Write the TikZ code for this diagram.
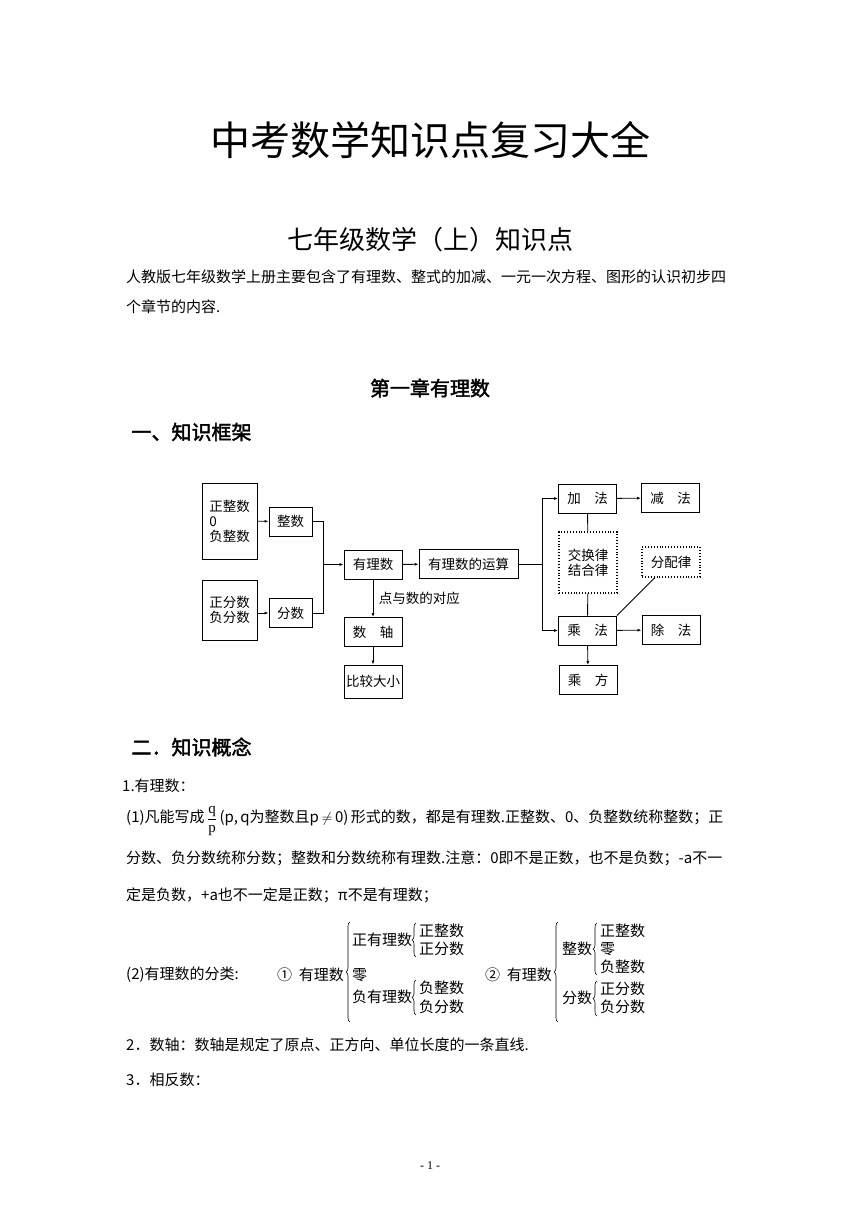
\documentclass[tikz,border=0pt]{standalone}
\usepackage{fontspec}
\setmainfont{Liberation Serif}
\newfontfamily\cjk{Noto Sans CJK SC}
\newfontfamily\cjkb[FakeBold=2]{Noto Sans CJK SC}
\usetikzlibrary{arrows.meta,decorations.pathreplacing}
\begin{document}
\begin{tikzpicture}[x=1pt,y=-1pt,
  bx/.style={draw,line width=0.9pt,minimum width=#1,minimum height=29pt,inner sep=1pt,font=\cjk\fontsize{13.5}{15}\selectfont},
  bx/.default=58pt,
  dbx/.style={bx,dotted,line width=1.2pt},
  ln/.style={line width=0.9pt},
  ar/.style={ln,-{Latex[length=4pt,width=3pt]}},
  tx/.style={anchor=west,inner sep=0,font=\cjk\fontsize{15}{16}\selectfont},
  br/.style={decorate,decoration={brace,amplitude=4pt},line width=0.6pt}]
\useasboundingbox (0,0) rectangle (860,1216);
\node[font=\cjk\fontsize{40}{42}\selectfont] (title) at (430,140) {中考数学知识点复习大全};
\node[font=\cjk\fontsize{26}{28}\selectfont] (sub) at (430,240) {七年级数学（上）知识点};
\node[tx] (p1) at (126,277) {人教版七年级数学上册主要包含了有理数、整式的加减、一元一次方程、图形的认识初步四};
\node[tx] (p2) at (126,307) {个章节的内容.};
\node[font=\cjkb\fontsize{20}{22}\selectfont] (ch) at (430,388) {第一章有理数};
\node[anchor=west,font=\cjkb\fontsize{20}{22}\selectfont] (h1) at (128,432) {一、知识框架};
% diagram
\node[bx=55pt,minimum height=76pt,align=left] (a1) at (229.5,521) {正整数\\0\\负整数};
\node[bx=43pt] (zs) at (290.5,521.5) {整数};
\node[bx=55pt,minimum height=60pt,align=left] (a2) at (229.5,610) {正分数\\负分数};
\node[bx=43pt] (fs) at (290.5,613) {分数};
\node[bx] (yl) at (373,564.5) {有理数};
\node[bx=99pt] (ys) at (468.5,564) {有理数的运算};
\node[bx] (jf) at (587.5,498.5) {加\quad 法};
\node[bx] (jian) at (670.5,498) {减\quad 法};
\node[dbx,minimum height=61pt,align=center] (jh) at (588,562.5) {交换律\\结合律};
\node[dbx,minimum height=30pt] (fp) at (671,562) {分配律};
\node[bx] (cf) at (587.5,630.5) {乘\quad 法};
\node[bx] (chu) at (671,630) {除\quad 法};
\node[bx] (cfang) at (588,680) {乘\quad 方};
\node[bx] (sz) at (373,632) {数\quad 轴};
\node[bx,minimum height=33pt] (bj) at (373,681.5) {比较大小};
\coordinate (j1) at (323,564.5);
\coordinate (j2) at (542,564);
\draw[ar] (a1) -- (zs);
\draw[ar] (a2.east|-fs) -- (fs);
\draw[ln] (zs.east) -| (j1) (fs.east) -| (j1);
\draw[ar] (j1) -- (yl);
\draw[ar] (yl) -- (ys);
\draw[ln] (ys) -- (j2);
\draw[ar] (j2) |- (jf);
\draw[ar] (j2) |- (cf);
\draw[ar] (jf) -- (jian);
\draw[ar] (cf) -- (chu);
\draw[ar] (cf) -- (cfang);
\draw[ln] (jf) -- (jh);
\draw[ln] (jh) -- (cf);
\draw[ln] (cf.north east) -- ([xshift=-16pt]fp.south);
\draw[ar] (yl) -- node[right,font=\cjk\fontsize{13.5}{15}\selectfont,xshift=2pt] {点与数的对应} (sz);
\draw[ar] (sz) -- (bj);
% part 2
\node[anchor=west,font=\cjkb\fontsize{20}{22}\selectfont] (h2) at (128,747) {二．知识概念};
\node[tx] (l1) at (122,786) {1.有理数：};
\node[tx] (l2) at (126,821) {(1)凡能写成\,$\displaystyle\frac{\mathrm q}{\mathrm p}$\,(p,\,q为整数且p\,$\neq$\,0)\,形式的数，都是有理数.正整数、0、负整数统称整数；正};
\node[tx] (l3) at (126,858) {分数、负分数统称分数；整数和分数统称有理数.注意：0即不是正数，也不是负数；-a不一};
\node[tx] (l4) at (126,895) {定是负数，+a也不一定是正数；π不是有理数；};
\node[tx] (c0) at (126,975) {(2)有理数的分类:};
\node[tx] (c1) at (277,975) {①\ \ 有理数};
\draw[br] (350,1022) -- (350,922);
\node[tx] (c11) at (352,940) {正有理数};
\draw[br] (416,957) -- (416,923);
\node[tx] (c111) at (419,931) {正整数};
\node[tx] (c112) at (419,949) {正分数};
\node[tx] (c12) at (352,975) {零};
\node[tx] (c13) at (352,997) {负有理数};
\draw[br] (416,1015) -- (416,980);
\node[tx] (c131) at (419,988) {负整数};
\node[tx] (c132) at (419,1007) {负分数};
\node[tx] (c2) at (485,975) {②\ \ 有理数};
\draw[br] (558,1022) -- (558,922);
\node[tx] (c21) at (562,949) {整数};
\draw[br] (597,975) -- (597,923);
\node[tx] (c211) at (600,931) {正整数};
\node[tx] (c212) at (600,949) {零};
\node[tx] (c213) at (600,967) {负整数};
\node[tx] (c22) at (562,998) {分数};
\draw[br] (597,1016) -- (597,981);
\node[tx] (c221) at (600,989) {正分数};
\node[tx] (c222) at (600,1007) {负分数};
\node[tx] (l5) at (126,1045) {2．数轴：数轴是规定了原点、正方向、单位长度的一条直线.};
\node[tx] (l6) at (126,1080) {3．相反数：};
\node[font=\fontsize{12}{13}\selectfont] (pg) at (430,1166) {- 1 -};
\end{tikzpicture}
\end{document}
